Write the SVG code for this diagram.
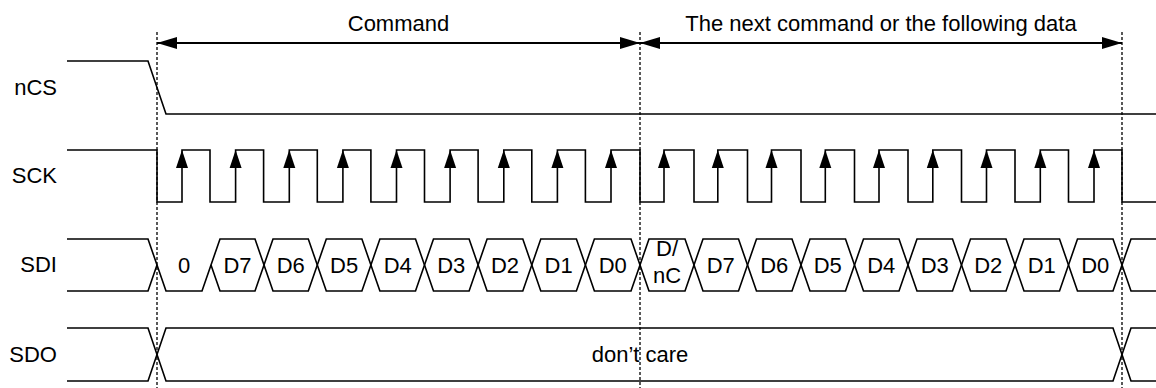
<svg xmlns="http://www.w3.org/2000/svg" xmlns:xlink="http://www.w3.org/1999/xlink" width="1156" height="388" viewBox="0 0 1156 388">
<style>
.sig{fill:none;stroke:#000;stroke-width:1.6;stroke-linejoin:miter}
.cell{fill:none;stroke:#000;stroke-width:1.6}
.t{font-family:"Liberation Sans",Arial,sans-serif;font-size:22px;fill:#000}
.lbl{text-anchor:end}
.c{text-anchor:middle}
.dash{stroke:#000;stroke-width:1.3;stroke-dasharray:3 2;fill:none}
.dim{stroke:#000;stroke-width:2;fill:none;marker-start:url(#ah);marker-end:url(#ah)}
</style>
<defs>
<marker id="ah" markerUnits="userSpaceOnUse" viewBox="0 0 20 12" refX="20" refY="6" markerWidth="20" markerHeight="12" orient="auto-start-reverse">
<path d="M0,0 L20,6 L0,12 Z" fill="#000"/>
</marker>
<path id="edge" d="M0,0 L-6,18 L6,18 Z" fill="#000"/>
</defs>
<rect width="1156" height="388" fill="#fff"/>

<g id="nCS">
<text class="t lbl" x="57" y="95">nCS</text>
<path class="sig" d="M67,61 H148 L166,114 H1156"/>
</g>

<g id="SCK">
<text class="t lbl" x="57" y="183">SCK</text>
<path class="sig" d="M67,150 H157 V202 H182 V150 H210 V202 H235.6 V150 H263.6 V202 H289.3 V150 H317.3 V202 H342.9 V150 H370.9 V202 H396.5 V150 H424.5 V202 H450.1 V150 H478.1 V202 H503.8 V150 H531.8 V202 H557.4 V150 H585.4 V202 H611 V150 H640 V202 H664 V150 H694 V202 H717.8 V150 H747.5 V202 H771.5 V150 H801 V202 H825.3 V150 H854.5 V202 H879 V150 H908 V202 H932.8 V150 H961.5 V202 H986.5 V150 H1015 V202 H1040.3 V150 H1068.5 V202 H1094 V150 H1122 V202 H1156"/>
<use xlink:href="#edge" x="182" y="150"/>
<use xlink:href="#edge" x="235.6" y="150"/>
<use xlink:href="#edge" x="289.3" y="150"/>
<use xlink:href="#edge" x="342.9" y="150"/>
<use xlink:href="#edge" x="396.5" y="150"/>
<use xlink:href="#edge" x="450.1" y="150"/>
<use xlink:href="#edge" x="503.8" y="150"/>
<use xlink:href="#edge" x="557.4" y="150"/>
<use xlink:href="#edge" x="611" y="150"/>
<use xlink:href="#edge" x="664" y="150"/>
<use xlink:href="#edge" x="717.8" y="150"/>
<use xlink:href="#edge" x="771.5" y="150"/>
<use xlink:href="#edge" x="825.3" y="150"/>
<use xlink:href="#edge" x="879" y="150"/>
<use xlink:href="#edge" x="932.8" y="150"/>
<use xlink:href="#edge" x="986.5" y="150"/>
<use xlink:href="#edge" x="1040.3" y="150"/>
<use xlink:href="#edge" x="1094" y="150"/>
</g>

<g id="SDI">
<text class="t lbl" x="57" y="272">SDI</text>
<path class="sig" d="M67,239 H148 L166,291 H202 L211,265"/>
<path class="sig" d="M67,291 H148 L157,265"/>
<text class="t c" x="184" y="273">0</text>
<polygon class="cell" points="211,265 220,239 255,239 264,265 255,291 220,291"/>
<text class="t c" x="237.5" y="273">D7</text>
<polygon class="cell" points="264,265 273,239 308.3,239 317.3,265 308.3,291 273,291"/>
<text class="t c" x="290.7" y="273">D6</text>
<polygon class="cell" points="317.3,265 326.3,239 361.9,239 370.9,265 361.9,291 326.3,291"/>
<text class="t c" x="344.1" y="273">D5</text>
<polygon class="cell" points="370.9,265 379.9,239 415.5,239 424.5,265 415.5,291 379.9,291"/>
<text class="t c" x="397.7" y="273">D4</text>
<polygon class="cell" points="424.5,265 433.5,239 469.1,239 478.1,265 469.1,291 433.5,291"/>
<text class="t c" x="451.3" y="273">D3</text>
<polygon class="cell" points="478.1,265 487.1,239 522.8,239 531.8,265 522.8,291 487.1,291"/>
<text class="t c" x="505" y="273">D2</text>
<polygon class="cell" points="531.8,265 540.8,239 576.4,239 585.4,265 576.4,291 540.8,291"/>
<text class="t c" x="558.6" y="273">D1</text>
<polygon class="cell" points="585.4,265 594.4,239 631,239 640,265 631,291 594.4,291"/>
<text class="t c" x="612.7" y="273">D0</text>
<polygon class="cell" points="640,265 649,239 685,239 694,265 685,291 649,291"/>
<text class="t c" x="667" y="256">D/</text>
<text class="t c" x="667" y="283">nC</text>
<polygon class="cell" points="694,265 703,239 738.5,239 747.5,265 738.5,291 703,291"/>
<text class="t c" x="720.8" y="273">D7</text>
<polygon class="cell" points="747.5,265 756.5,239 792,239 801,265 792,291 756.5,291"/>
<text class="t c" x="774.3" y="273">D6</text>
<polygon class="cell" points="801,265 810,239 845.5,239 854.5,265 845.5,291 810,291"/>
<text class="t c" x="827.8" y="273">D5</text>
<polygon class="cell" points="854.5,265 863.5,239 899,239 908,265 899,291 863.5,291"/>
<text class="t c" x="881.3" y="273">D4</text>
<polygon class="cell" points="908,265 917,239 952.5,239 961.5,265 952.5,291 917,291"/>
<text class="t c" x="934.8" y="273">D3</text>
<polygon class="cell" points="961.5,265 970.5,239 1006,239 1015,265 1006,291 970.5,291"/>
<text class="t c" x="988.3" y="273">D2</text>
<polygon class="cell" points="1015,265 1024,239 1059.5,239 1068.5,265 1059.5,291 1024,291"/>
<text class="t c" x="1041.8" y="273">D1</text>
<polygon class="cell" points="1068.5,265 1077.5,239 1113,239 1122,265 1113,291 1077.5,291"/>
<text class="t c" x="1095.3" y="273">D0</text>
<path class="sig" d="M1122,265 L1131,239 H1156 M1122,265 L1131,291 H1156"/>
</g>

<g id="SDO">
<text class="t lbl" x="57" y="362">SDO</text>
<path class="sig" d="M67,328 H148 L166,381 H1113 L1131,328 H1156"/>
<path class="sig" d="M67,381 H148 L166,328 H1113 L1131,381 H1156"/>
<text class="t c" x="640" y="362">don’t care</text>
</g>

<g id="connectors">
<line class="dash" x1="157" y1="32" x2="157" y2="388"/>
<line class="dash" x1="640" y1="32" x2="640" y2="388"/>
<line class="dash" x1="1122" y1="32" x2="1122" y2="388"/>
<line class="dim" x1="157" y1="43" x2="640" y2="43"/>
<line class="dim" x1="640" y1="43" x2="1122" y2="43"/>
<text class="t c" x="398.5" y="31">Command</text>
<text class="t c" x="881" y="31">The next command or the following data</text>
</g>
</svg>
